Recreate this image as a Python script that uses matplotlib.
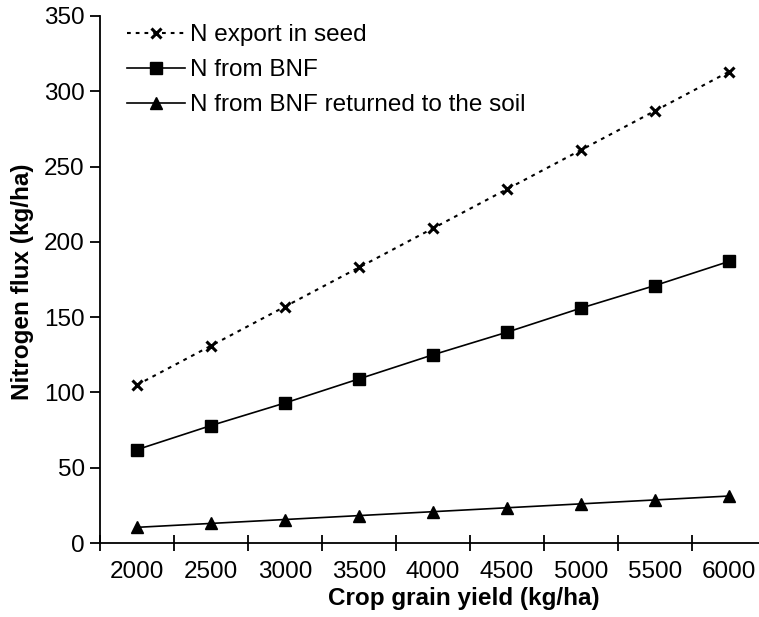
import matplotlib
matplotlib.use("Agg")
import matplotlib.pyplot as plt
import numpy as np

# Crop grain yield categories (kg/ha)
yield_labels = ["2000", "2500", "3000", "3500", "4000", "4500", "5000", "5500", "6000"]

# Nitrogen fluxes (kg/ha)
n_export_seed = [105, 131, 157, 183, 209, 235, 261, 287, 313]
n_from_bnf = [62, 78, 93, 109, 125, 140, 156, 171, 187]
n_bnf_returned = [10.4, 13.0, 15.6, 18.2, 20.8, 23.4, 26.0, 28.6, 31.2]

plt.rcParams["font.family"] = ["Liberation Sans", "DejaVu Sans"]

W, H = 759, 617
fig = plt.figure(figsize=(W / 100, H / 100), dpi=100)
left, right, top, bottom = 100, 766, 16, 543
ax = fig.add_axes([left / W, (H - bottom) / H, (right - left) / W, (bottom - top) / H])

x = np.arange(len(yield_labels))
ax.plot(x, n_export_seed, color="black", linestyle=(0, (1.8, 2.4)), linewidth=1.5,
        marker="x", markersize=7.5, markeredgewidth=2.2, label="N export in seed")
ax.plot(x, n_from_bnf, color="black", linestyle="-", linewidth=1.2,
        marker="s", markersize=8, label="N from BNF")
ax.plot(x, n_bnf_returned, color="black", linestyle="-", linewidth=1.2,
        marker="^", markersize=8, label="N from BNF returned to the soil")

ax.set_xlim(-0.5, 8.5)
ax.set_ylim(0, 350)
ax.set_yticks(np.arange(0, 351, 50))
ax.set_xticks(x)
ax.set_xticklabels(yield_labels)
ax.set_xticks(np.arange(-0.5, 9.0, 1.0), minor=True)

for s in ("top", "right"):
    ax.spines[s].set_visible(False)
for s in ("left", "bottom"):
    ax.spines[s].set_linewidth(1.3)

ax.tick_params(axis="x", which="major", length=0, labelsize=17.5, pad=13)
ax.tick_params(axis="x", which="minor", direction="inout", length=12, width=1.3)
ax.tick_params(axis="y", direction="out", length=7, width=1.3, labelsize=17.5, pad=4)

fig.text(464 / W, 1 - 598 / H, "Crop grain yield (kg/ha)", ha="center", va="center",
         fontsize=17.5, fontweight="bold")
fig.text(23 / W, 1 - 282 / H, "Nitrogen flux (kg/ha)", ha="center", va="center",
         rotation=90, fontsize=17.5, fontweight="bold")

ax.legend(loc="upper left", bbox_to_anchor=(127 / W, 1 - 24 / H),
          bbox_transform=fig.transFigure, frameon=False, fontsize=17.5,
          handlelength=2.4, handletextpad=0.2, labelspacing=0.54,
          borderpad=0, borderaxespad=0)

fig.savefig("out.png", dpi=100)
